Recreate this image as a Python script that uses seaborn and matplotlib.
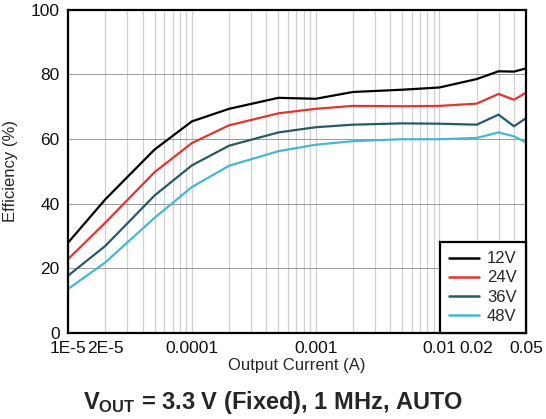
import numpy as np
import pandas as pd
import matplotlib
matplotlib.use("Agg")
import matplotlib.pyplot as plt
import matplotlib.ticker as mticker
import seaborn as sns

# ==========================================================
# Data
# ==========================================================

current_a = [1e-5, 2e-5, 5e-5, 1e-4, 2e-4, 5e-4, 1e-3, 2e-3, 5e-3, 1e-2, 2e-2, 3e-2, 4e-2, 5e-2]

eff_12v = [27.9, 41.3, 56.7, 65.4, 69.3, 72.7, 72.4, 74.5, 75.2, 75.9, 78.5, 80.9, 80.8, 81.8]
eff_24v = [22.8, 34.1, 49.7, 58.7, 64.2, 67.9, 69.3, 70.2, 70.1, 70.2, 70.9, 73.9, 72.1, 74.3]
eff_36v = [17.7, 26.9, 42.5, 51.8, 57.9, 62.0, 63.6, 64.4, 64.8, 64.7, 64.4, 67.5, 63.9, 66.4]
eff_48v = [13.6, 21.8, 35.6, 45.1, 51.7, 56.2, 58.2, 59.3, 59.9, 59.9, 60.3, 62.0, 60.8, 58.9]

series_names = ["12V", "24V", "36V", "48V"]
series_colors = ["#000000", "#e2352e", "#265a69", "#45b9cc"]

tick_values = [1e-5, 2e-5, 1e-4, 1e-3, 1e-2, 2e-2, 5e-2]
tick_labels = ["1E-5", "2E-5", "0.0001", "0.001", "0.01", "0.02", "0.05"]

df = pd.DataFrame({
    "Current": current_a * 4,
    "Efficiency": eff_12v + eff_24v + eff_36v + eff_48v,
    "Vin": sum([[n] * len(current_a) for n in series_names], []),
})

# ==========================================================
# Plot
# ==========================================================

sns.set_style("white")
plt.rcParams["font.family"] = ["Liberation Sans", "DejaVu Sans"]
plt.rcParams["mathtext.fontset"] = "custom"
plt.rcParams["mathtext.rm"] = "Liberation Sans:bold"
plt.rcParams["mathtext.bf"] = "Liberation Sans:bold"
plt.rcParams["mathtext.it"] = "Liberation Sans:bold"

fig = plt.figure(figsize=(5.46, 4.19), dpi=100)
ax = fig.add_axes([68 / 546, 1 - 333 / 419, 458 / 546, 323.5 / 419])

sns.lineplot(
    data=df, x="Current", y="Efficiency", hue="Vin",
    palette=dict(zip(series_names, series_colors)),
    linewidth=1.6, ax=ax,
)

ax.set_xscale("log")
ax.set_xlim(1e-5, 0.05)
ax.set_ylim(0, 100)

ax.xaxis.set_major_locator(mticker.FixedLocator(tick_values))
ax.xaxis.set_major_formatter(mticker.FixedFormatter(tick_labels))
ax.xaxis.set_minor_locator(mticker.LogLocator(base=10, subs=np.arange(1, 10), numticks=20))
ax.xaxis.set_minor_formatter(mticker.NullFormatter())
ax.set_yticks([0, 20, 40, 60, 80, 100])

ax.grid(False)
ax.grid(axis="x", which="both", color="#d0d0d0", linewidth=0.9)
ax.grid(axis="y", which="major", color="#8c8c8c", linewidth=0.6)
ax.set_axisbelow(True)

ax.tick_params(axis="both", which="both", length=0, labelsize=12.5, colors="#111111")
ax.tick_params(axis="x", pad=6)
ax.tick_params(axis="y", pad=6)

for side in ["left", "right", "top", "bottom"]:
    ax.spines[side].set_visible(True)
    ax.spines[side].set_color("black")
    ax.spines[side].set_linewidth(1.6)

ax.set_xlabel("Output Current (A)", fontsize=12, labelpad=1)
ax.set_ylabel("Efficiency (%)", fontsize=12)
ax.yaxis.set_label_coords(-0.11, 0.5)

leg = ax.legend(
    loc="lower right", frameon=True, fancybox=False, framealpha=1,
    edgecolor="black", borderaxespad=0, fontsize=12,
    handlelength=1.8, handletextpad=0.5, labelspacing=0.25,
    borderpad=0.55, title=None,
)
leg.get_frame().set_linewidth(1.6)
for line in leg.get_lines():
    line.set_linewidth(1.8)

fig.text(0.5, 1 - 402 / 419, r"$\mathrm{V_{OUT}}$ = 3.3 V (Fixed), 1 MHz, AUTO",
         ha="center", va="center", fontsize=17, fontweight="bold")

plt.savefig("out.png", dpi=100)
